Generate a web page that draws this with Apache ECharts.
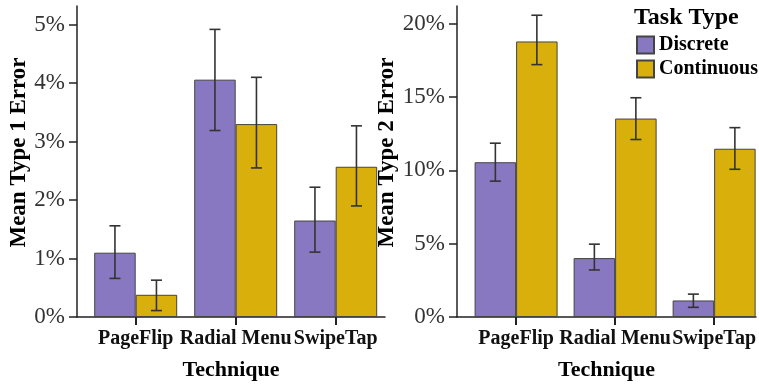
<!DOCTYPE html>
<html lang="en">
<head>
    <meta charset="utf-8">
    <title>Type 1 / Type 2 error by technique</title>
    <style>
        html, body { margin: 0; padding: 0; background: #fff; }
        #main { width: 759px; height: 386px; }
    </style>
</head>
<body>
    <div id="main"></div>
    <script src="https://cdn.jsdelivr.net/npm/echarts@6/dist/echarts.min.js"></script>
    <script type="text/javascript">
        // categories
        var techniques = ['PageFlip', 'Radial Menu', 'SwipeTap'];
        var taskTypes = ['Discrete', 'Continuous'];

        // Mean Type 1 Error (%)
        var type1Discrete = [1.10, 4.06, 1.65];
        var type1DiscreteLow = [0.66, 3.19, 1.11];
        var type1DiscreteHigh = [1.56, 4.92, 2.22];
        var type1Continuous = [0.38, 3.30, 2.57];
        var type1ContinuousLow = [0.11, 2.55, 1.90];
        var type1ContinuousHigh = [0.63, 4.10, 3.27];

        // Mean Type 2 Error (%)
        var type2Discrete = [10.56, 4.02, 1.13];
        var type2DiscreteLow = [9.27, 3.21, 0.66];
        var type2DiscreteHigh = [11.86, 4.97, 1.56];
        var type2Continuous = [18.80, 13.54, 11.48];
        var type2ContinuousLow = [17.22, 12.11, 10.08];
        var type2ContinuousHigh = [20.59, 14.96, 12.92];

        var tickValues = [1, 2, 3];

        var serif = 'Liberation Serif';
        var purple = '#8878c2';
        var gold = '#d9af0b';
        var barW = 41.5;

        function barData(vals) {
            return vals.map(function (v, i) { return [i + 1, v]; });
        }
        function errData(lo, hi) {
            return lo.map(function (v, i) { return [i + 1, v, hi[i]]; });
        }

        function barSeries(name, vals, color, idx) {
            return {
                name: name,
                type: 'bar',
                xAxisIndex: idx,
                yAxisIndex: idx,
                barWidth: barW,
                barGap: '0%',
                data: barData(vals),
                itemStyle: { color: color, borderColor: '#444', borderWidth: 1 }
            };
        }

        // 误差线, dir = -1 左边柱子, 1 右边柱子
        function errSeries(lo, hi, dir, idx) {
            return {
                type: 'custom',
                xAxisIndex: idx,
                yAxisIndex: idx,
                silent: true,
                z: 5,
                encode: { x: 0, y: [1, 2] },
                data: errData(lo, hi),
                renderItem: function (params, api) {
                    var p0 = api.coord([api.value(0), api.value(1)]);
                    var p1 = api.coord([api.value(0), api.value(2)]);
                    var cx = p0[0] + dir * barW / 2;
                    var cap = 5.5;
                    var st = { stroke: '#333', lineWidth: 1.6 };
                    return {
                        type: 'group',
                        children: [
                            { type: 'line', shape: { x1: cx, y1: p0[1], x2: cx, y2: p1[1] }, style: st },
                            { type: 'line', shape: { x1: cx - cap, y1: p0[1], x2: cx + cap, y2: p0[1] }, style: st },
                            { type: 'line', shape: { x1: cx - cap, y1: p1[1], x2: cx + cap, y2: p1[1] }, style: st }
                        ]
                    };
                }
            };
        }

        function xAxisCfg(idx, min, max) {
            return {
                type: 'value',
                gridIndex: idx,
                min: min,
                max: max,
                name: 'Technique',
                nameLocation: 'middle',
                nameGap: 42,
                nameTextStyle: { fontFamily: serif, fontWeight: 'bold', fontSize: 22, color: '#000' },
                splitLine: { show: false },
                axisLine: { lineStyle: { color: '#222', width: 1.5 } },
                axisTick: { customValues: tickValues, length: 8, lineStyle: { color: '#222', width: 2 } },
                axisLabel: {
                    customValues: tickValues,
                    margin: 12,
                    fontFamily: serif,
                    fontWeight: 'bold',
                    fontSize: 20,
                    color: '#111',
                    formatter: function (v) { return techniques[v - 1]; }
                }
            };
        }

        function yAxisCfg(idx, name, max, interval, gap) {
            return {
                type: 'value',
                gridIndex: idx,
                min: 0,
                max: max,
                interval: interval,
                name: name,
                nameLocation: 'middle',
                nameGap: gap,
                nameTextStyle: {
                    fontFamily: serif, fontWeight: 'bold', fontSize: 23, color: '#000',
                    padding: [0, 0, 0, 18]
                },
                splitLine: { show: false },
                axisLine: { show: true, lineStyle: { color: '#222', width: 1.5 } },
                axisTick: { show: true, length: 8, lineStyle: { color: '#222', width: 1.5 } },
                axisLabel: {
                    margin: 12,
                    fontFamily: serif,
                    fontSize: 23,
                    color: '#333',
                    formatter: '{value}%'
                }
            };
        }

        var myChart = echarts.init(document.getElementById('main'));
        var option = {
            animation: false,
            title: {
                text: 'Task Type',
                left: 634,
                top: 6,
                padding: 0,
                textStyle: { fontFamily: serif, fontWeight: 'bold', fontSize: 24, color: '#000' }
            },
            legend: {
                data: taskTypes,
                orient: 'vertical',
                left: 636,
                top: 35,
                padding: 0,
                itemWidth: 17,
                itemHeight: 17,
                itemGap: 4,
                icon: 'rect',
                textStyle: { fontFamily: serif, fontWeight: 'bold', fontSize: 20, color: '#000' }
            },
            grid: [
                { left: 77, top: 6, width: 308, height: 313 },
                { left: 457, top: 6, width: 302, height: 313 }
            ],
            xAxis: [
                xAxisCfg(0, 0.413, 3.493),
                xAxisCfg(1, 0.403, 3.423)
            ],
            yAxis: [
                yAxisCfg(0, 'Mean Type 1 Error', 5.32, 1, 44),
                yAxisCfg(1, 'Mean Type 2 Error', 21.22, 5, 55)
            ],
            series: [
                barSeries('Discrete', type1Discrete, purple, 0),
                barSeries('Continuous', type1Continuous, gold, 0),
                errSeries(type1DiscreteLow, type1DiscreteHigh, -1, 0),
                errSeries(type1ContinuousLow, type1ContinuousHigh, 1, 0),
                barSeries('Discrete', type2Discrete, purple, 1),
                barSeries('Continuous', type2Continuous, gold, 1),
                errSeries(type2DiscreteLow, type2DiscreteHigh, -1, 1),
                errSeries(type2ContinuousLow, type2ContinuousHigh, 1, 1)
            ]
        };
        myChart.setOption(option);
    </script>
</body>
</html>
